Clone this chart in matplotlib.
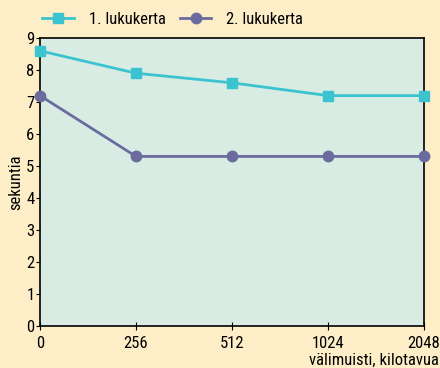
import matplotlib.pyplot as plt
import numpy as np

# cache size (kB) and timings
labels = ['0', '256', '512', '1024', '2048']
first_run = [8.6, 7.9, 7.6, 7.2, 7.2]
second_run = [7.2, 5.3, 5.3, 5.3, 5.3]

plt.rcParams['font.family'] = ['Roboto Condensed', 'DejaVu Sans']

fig = plt.figure(figsize=(4.4, 3.68), dpi=100, facecolor='#fdeec8')
ax = fig.add_axes([0.0909, 0.114, 0.8727, 0.7827])
ax.set_facecolor('#d8ece4')

x = np.arange(len(labels))
ax.plot(x, first_run, color='#3cc3d0', marker='s', markersize=7.5, lw=2,
        label='1. lukukerta', clip_on=False, zorder=3)
ax.plot(x, second_run, color='#6b6b9e', marker='o', markersize=7.5, lw=2,
        label='2. lukukerta', clip_on=False, zorder=3)

ax.set_xlim(0, 4)
ax.set_ylim(0, 9)
ax.set_xticks(x)
ax.set_xticklabels(labels)
ax.set_yticks(range(10))
ax.tick_params(axis='x', direction='inout', length=6, labelsize=12, pad=4)
ax.tick_params(axis='y', direction='out', length=3, labelsize=12, pad=1)
for s in ax.spines.values():
    s.set_linewidth(1.2)

ax.set_ylabel('sekuntia', fontsize=12, labelpad=2)
fig.text(0.997, 0.0, 'välimuisti, kilotavua', ha='right', va='bottom', fontsize=12)

ax.legend(loc='center left', bbox_to_anchor=(42 / 440, 1 - 19 / 368),
          bbox_transform=fig.transFigure, ncol=2, frameon=False,
          fontsize=12, handlelength=1.9, borderaxespad=0, borderpad=0,
          columnspacing=0.85, handletextpad=0.9)

fig.savefig('out.png', dpi=100, facecolor=fig.get_facecolor())
